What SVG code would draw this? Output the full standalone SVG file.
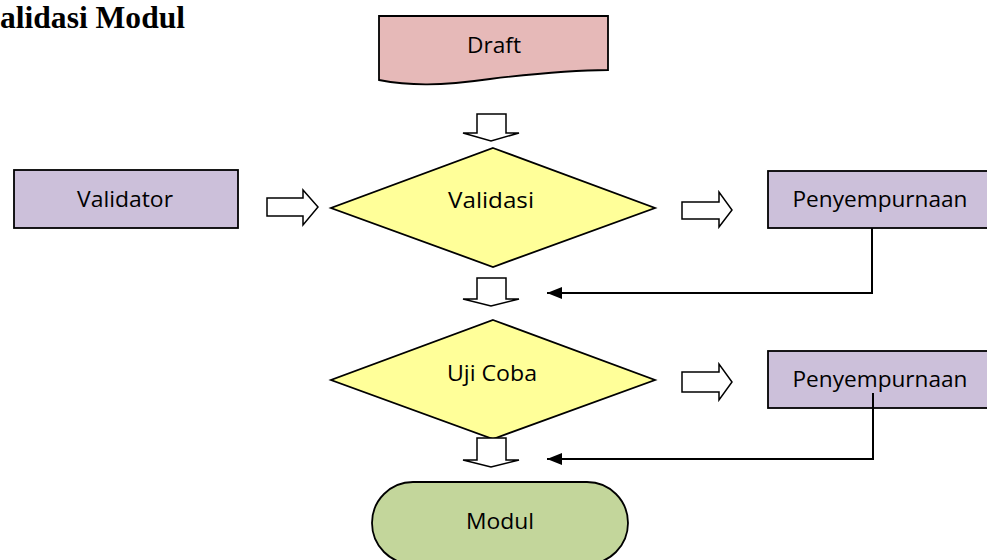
<svg xmlns="http://www.w3.org/2000/svg" width="987" height="560" viewBox="0 0 987 560">
  <defs>
    <style>
      .shape { stroke: #000; stroke-width: 1.8; }
      .proc { fill: #ccc0da; }
      .doc { fill: #e6b9b8; }
      .dec { fill: #ffff99; }
      .term { fill: #c3d69b; }
      .lbl { font-family: "Open Sans", "Liberation Sans", sans-serif; font-size: 21px; fill: #000; text-anchor: middle; }
      .title { font-family: "Liberation Serif", "Times New Roman", serif; font-size: 31px; font-weight: bold; fill: #000; }
      .block { fill: #fff; stroke: #000; stroke-width: 1.5; stroke-linejoin: miter; }
      .feed { fill: none; stroke: #000; stroke-width: 2; }
    </style>
    <marker id="head" markerUnits="userSpaceOnUse" markerWidth="16" markerHeight="12" refX="15" refY="6" orient="auto">
      <path d="M0,0 L15,6 L0,12 Z" fill="#000"/>
    </marker>
  </defs>

  <text class="title" x="0" y="28" textLength="185" lengthAdjust="spacingAndGlyphs">alidasi Modul</text>

  <g id="draft">
    <path class="shape doc" d="M379,16 H608 V70 C580,70 540,73 490,79 C440,86 410,86 379,80 Z"/>
    <text class="lbl" x="494" y="53" textLength="54" lengthAdjust="spacingAndGlyphs">Draft</text>
  </g>

  <g id="validator">
    <rect class="shape proc" x="14" y="170" width="224" height="58"/>
    <text class="lbl" x="125" y="207" textLength="96" lengthAdjust="spacingAndGlyphs">Validator</text>
  </g>

  <g id="validasi">
    <polygon class="shape dec" points="493,148 655,208 493,267 331,208"/>
    <text class="lbl" x="491" y="208" textLength="86" lengthAdjust="spacingAndGlyphs">Validasi</text>
  </g>

  <g id="penyempurnaan-1">
    <rect class="shape proc" x="768" y="171" width="220" height="57"/>
    <text class="lbl" x="880" y="207" textLength="175" lengthAdjust="spacingAndGlyphs">Penyempurnaan</text>
  </g>

  <g id="uji-coba">
    <polygon class="shape dec" points="493,320 655,380 493,439 331,380"/>
    <text class="lbl" x="492" y="381" textLength="90" lengthAdjust="spacingAndGlyphs">Uji Coba</text>
  </g>

  <g id="penyempurnaan-2">
    <rect class="shape proc" x="768" y="351" width="220" height="57"/>
    <text class="lbl" x="880" y="387" textLength="175" lengthAdjust="spacingAndGlyphs">Penyempurnaan</text>
  </g>

  <g id="modul">
    <rect class="shape term" x="372" y="482" width="256" height="82" rx="41" ry="41"/>
    <text class="lbl" x="500" y="529" textLength="68" lengthAdjust="spacingAndGlyphs">Modul</text>
  </g>

  <g id="connectors">
    <!-- block arrows pointing down -->
    <polygon class="block" points="477,114 506,114 506,133 519,133 491,141 463,133 477,133"/>
    <polygon class="block" points="477,278 506,278 506,299 519,299 491,306 463,299 477,299"/>
    <polygon class="block" points="477,438 506,438 506,460 519,460 491,467 463,460 477,460"/>
    <!-- block arrows pointing right -->
    <polygon class="block" points="267,198 303,198 303,190 318,207 303,225 303,216 267,216"/>
    <polygon class="block" points="682,202 719,202 719,192 732,210 719,227 719,219 682,219"/>
    <polygon class="block" points="682,372 719,372 719,364 732,382 719,400 719,392 682,392"/>
    <!-- feedback lines from the revision boxes -->
    <polyline class="feed" points="872,228 872,293 547,293" marker-end="url(#head)"/>
    <polyline class="feed" points="873,393 873,459 547,459" marker-end="url(#head)"/>
  </g>
</svg>
